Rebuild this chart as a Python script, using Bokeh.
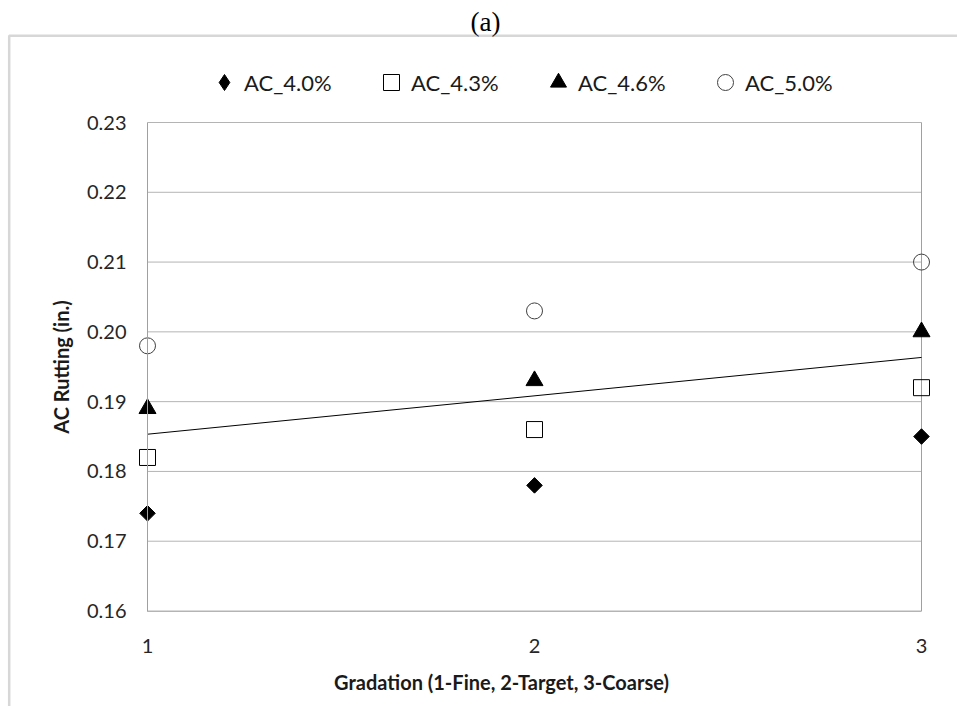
import numpy as np
from bokeh.plotting import figure
from bokeh.models import (Range1d, FixedTicker, Legend, LegendItem, Label,
                          BoxAnnotation)
from bokeh.embed import file_html
from bokeh.resources import INLINE

# Gradation index on the x axis
gradation = [1, 2, 3]
gradation_labels = ["1", "2", "3"]

# AC rutting (in.) for each asphalt content
ac_4_0 = [0.174, 0.178, 0.185]
ac_4_3 = [0.182, 0.186, 0.192]
ac_4_6 = [0.189, 0.193, 0.200]
ac_5_0 = [0.198, 0.203, 0.210]

series_names = ["AC_4.0%", "AC_4.3%", "AC_4.6%", "AC_5.0%"]

y_ticks = [0.16, 0.17, 0.18, 0.19, 0.20, 0.21, 0.22, 0.23]
y_tick_labels = ["0.16", "0.17", "0.18", "0.19", "0.20", "0.21", "0.22", "0.23"]

# Linear trend fitted over every point
all_x = np.array(gradation * 4, dtype=float)
all_y = np.array(ac_4_0 + ac_4_3 + ac_4_6 + ac_5_0)
slope, intercept = np.polyfit(all_x, all_y, 1)
trend_x = [gradation[0], gradation[-1]]
trend_y = [slope * v + intercept for v in trend_x]

FONT = "Lato"
GRID = "#b4b4b4"
AXIS = "#a0a0a0"
W, H = 957, 706

# The data frame fills the whole canvas; the plot area (x 1..3, y 0.16..0.23)
# sits at pixels 147..921 horizontally and 122..610.5 vertically.
px_x = (921 - 147) / (gradation[-1] - gradation[0])
px_y = (610.5 - 122) / (y_ticks[-1] - y_ticks[0])
x0 = gradation[0] - 147 / px_x
y1 = y_ticks[-1] + 122 / px_y

p = figure(width=W, height=H, output_backend="svg", toolbar_location=None,
           x_range=Range1d(x0, x0 + W / px_x),
           y_range=Range1d(y1 - H / px_y, y1),
           min_border=0, background_fill_color="white",
           border_fill_color="white", outline_line_color=None)
p.grid.visible = False

# horizontal gridlines and plot-area right edge
p.segment(x0=gradation[0], x1=gradation[-1], y0=y_ticks, y1=y_ticks,
          line_color=GRID, line_width=1)
p.segment(x0=gradation[-1], x1=gradation[-1], y0=y_ticks[0], y1=y_ticks[-1],
          line_color=AXIS, line_width=1)

# trend line
p.line(trend_x, trend_y, line_color="black", line_width=1)

# diamond used as the legend swatch; it sits fully under the rotated squares
r1_key = p.scatter(gradation, ac_4_0, marker="diamond", size=13,
                   fill_color="black", line_color="black")
r1 = p.scatter(gradation, ac_4_0, marker="square", angle=np.pi / 4, size=11,
               fill_color="black", line_color="black")
r2 = p.scatter(gradation, ac_4_3, marker="square", size=16,
               fill_color=None, line_color="black", line_width=1)
r3 = p.scatter(gradation, ac_4_6, marker="triangle", size=17,
               fill_color="black", line_color="black")
r4 = p.scatter(gradation, ac_5_0, marker="circle", size=16,
               fill_color=None, line_color="#404040", line_width=1)

# y axis on x = 1
yax = p.yaxis[0]
yax.ticker = FixedTicker(ticks=y_ticks)
yax.major_label_overrides = {t: s for t, s in zip(y_ticks, y_tick_labels)}
yax.fixed_location = gradation[0]
yax.bounds = (y_ticks[0], y_ticks[-1])
yax.axis_line_color = AXIS
yax.major_tick_line_color = None
yax.minor_tick_line_color = None
yax.major_tick_out = 0
yax.major_tick_in = 0
yax.major_label_standoff = 21
yax.major_label_text_font = FONT
yax.major_label_text_font_size = "20px"
yax.major_label_text_color = "#262626"
yax.axis_label = "AC Rutting (in.)"
yax.axis_label_text_font = FONT
yax.axis_label_text_font_style = "bold"
yax.axis_label_text_font_size = "20px"
yax.axis_label_text_color = "#1a1a1a"
yax.axis_label_standoff = 11

# x axis on y = 0.16
xax = p.xaxis[0]
xax.ticker = FixedTicker(ticks=gradation)
xax.major_label_overrides = {t: s for t, s in zip(gradation, gradation_labels)}
xax.fixed_location = y_ticks[0]
xax.bounds = (gradation[0], gradation[-1])
xax.axis_line_color = GRID
xax.major_tick_line_color = None
xax.minor_tick_line_color = None
xax.major_tick_out = 0
xax.major_tick_in = 0
xax.major_label_standoff = 28
xax.major_label_text_font = FONT
xax.major_label_text_font_size = "20px"
xax.major_label_text_color = "#262626"

p.add_layout(Label(x=501, y=681, x_units="canvas", y_units="canvas",
                   text="Gradation (1-Fine, 2-Target, 3-Coarse)",
                   text_font=FONT, text_font_style="bold",
                   text_font_size="20px", text_color="#1a1a1a",
                   text_align="center", text_baseline="middle"))

# panel caption
p.add_layout(Label(x=485, y=21, x_units="canvas", y_units="canvas",
                   text="(a)", text_font="Liberation Serif",
                   text_font_size="27px", text_color="black",
                   text_align="center", text_baseline="middle"))

# chart frame (top and left edges)
p.add_layout(BoxAnnotation(left=8.7, right=1100, top=35.3, bottom=900,
                           left_units="canvas", right_units="canvas",
                           top_units="canvas", bottom_units="canvas",
                           fill_color=None, line_color="#7a7a7a",
                           line_width=2.5))

legend = Legend(items=[LegendItem(label=n, renderers=[r])
                       for n, r in zip(series_names, [r1_key, r2, r3, r4])],
                orientation="horizontal", location=(204, H - 62 - 40),
                glyph_width=40, glyph_height=40, label_standoff=0,
                label_width=100, spacing=27, padding=0, margin=0,
                border_line_color=None, background_fill_alpha=0,
                label_text_font=FONT, label_text_font_size="22px",
                label_text_color="#1a1a1a", label_text_baseline="middle")
p.add_layout(legend)

open("out.html", "w").write(file_html(p, INLINE))
